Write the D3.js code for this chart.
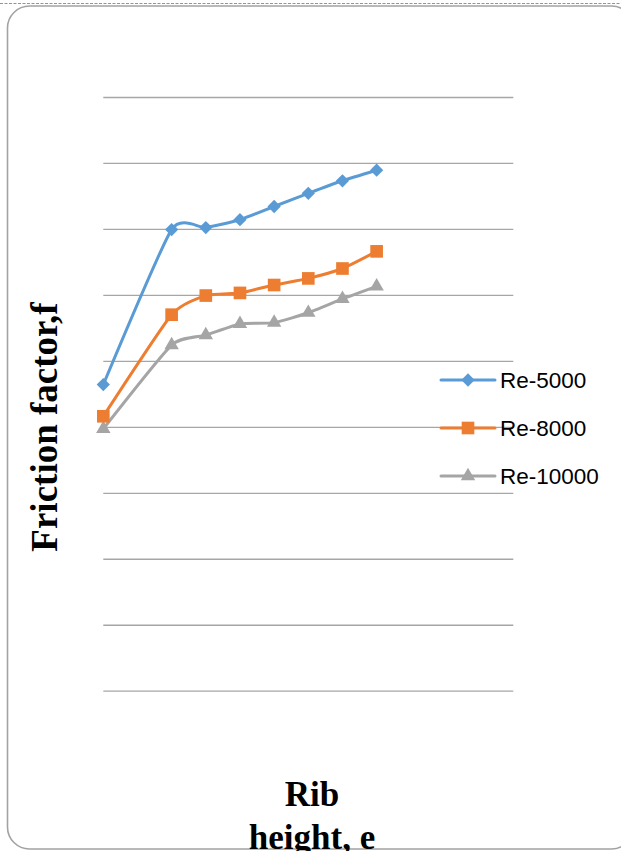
<!DOCTYPE html>
<html>
<head>
<meta charset="utf-8">
<script src="https://cdn.jsdelivr.net/npm/d3@7"></script>
<style>
  html, body { margin: 0; padding: 0; background: #fff; overflow: hidden; }
  svg { display: block; }
</style>
</head>
<body>
<svg id="chart" width="621" height="851"></svg>
<script>
// Rib height (x) and friction factor for each Reynolds number
const ribHeight = [0, 1, 1.5, 2, 2.5, 3, 3.5, 4];
const re5000  = [0.0464, 0.0699, 0.0702, 0.0714, 0.0734, 0.0754, 0.0773, 0.0789];
const re8000  = [0.0416, 0.0570, 0.0599, 0.0603, 0.0615, 0.0625, 0.0640, 0.0666];
const re10000 = [0.0397, 0.0524, 0.0539, 0.0556, 0.0558, 0.0573, 0.0594, 0.0613];
const seriesNames = ["Re-5000", "Re-8000", "Re-10000"];
const yTicks = [0, 0.01, 0.02, 0.03, 0.04, 0.05, 0.06, 0.07, 0.08, 0.09];

const colors = ["#5B9BD5", "#ED7D31", "#A5A5A5"];
const markerShapes = ["diamond", "square", "triangle"];

const svg = d3.select("#chart");

// dashed rule along the top and rounded frame
svg.append("line")
  .attr("x1", 0).attr("x2", 621).attr("y1", 3.5).attr("y2", 3.5)
  .attr("stroke", "#8796ab").attr("stroke-width", 1.2)
  .attr("stroke-dasharray", "3,1.5");
svg.append("rect")
  .attr("x", 7.5).attr("y", 6).attr("width", 626).attr("height", 843)
  .attr("rx", 22).attr("ry", 22)
  .attr("fill", "#fff").attr("stroke", "#a3a3a3").attr("stroke-width", 1.6);

const x = d3.scaleLinear().domain([0, 6]).range([103.3, 513.3]);
const y = d3.scaleLinear().domain([0, 0.09]).range([690.7, 97]);

// horizontal gridlines
const grid = svg.append("g")
  .attr("transform", `translate(${x.range()[0]},0)`)
  .call(d3.axisLeft(y).tickValues(yTicks)
    .tickSize(-(x.range()[1] - x.range()[0])).tickFormat(""));
grid.select(".domain").remove();
grid.selectAll(".tick line").attr("stroke", "#a6a6a6").attr("stroke-width", 1.3);

function symbolPath(shape) {
  if (shape === "diamond") return d3.symbol().type(d3.symbolSquare).size(88)();
  if (shape === "square") return d3.symbol().type(d3.symbolSquare).size(160)();
  return d3.symbol().type(d3.symbolTriangle).size(90)();
}
function symbolTransform(shape, px, py) {
  return shape === "diamond"
    ? `translate(${px},${py}) rotate(45)`
    : `translate(${px},${py})`;
}

const allSeries = [re5000, re8000, re10000].map((vals, i) => ({
  name: seriesNames[i],
  color: colors[i],
  shape: markerShapes[i],
  points: ribHeight.map((h, j) => ({ x: h, y: vals[j] }))
}));

const line = d3.line()
  .x(d => x(d.x)).y(d => y(d.y))
  .curve(d3.curveCardinal.tension(0.45));

// draw series from back to front
allSeries.slice().reverse().forEach(s => {
  const g = svg.append("g");
  g.append("path")
    .attr("d", line(s.points))
    .attr("fill", "none")
    .attr("stroke", s.color)
    .attr("stroke-width", 3)
    .attr("stroke-linejoin", "round")
    .attr("stroke-linecap", "round");
  g.selectAll("path.marker")
    .data(s.points)
    .join("path")
    .attr("class", "marker")
    .attr("d", symbolPath(s.shape))
    .attr("transform", d => symbolTransform(s.shape, x(d.x), y(d.y)))
    .attr("fill", s.color);
});

// legend
const legend = svg.append("g");
allSeries.forEach((s, i) => {
  const cy = 380 + i * 48;
  legend.append("line")
    .attr("x1", 441).attr("x2", 495).attr("y1", cy).attr("y2", cy)
    .attr("stroke", s.color).attr("stroke-width", 3)
    .attr("stroke-linecap", "round");
  legend.append("path")
    .attr("d", symbolPath(s.shape))
    .attr("transform", symbolTransform(s.shape, 468, cy))
    .attr("fill", s.color);
  legend.append("text")
    .attr("x", 500).attr("y", cy + 8)
    .attr("font-family", "'Liberation Sans', Arial, sans-serif")
    .attr("font-size", 22.5)
    .attr("fill", "#000")
    .text(s.name);
});

// axis titles
svg.append("text")
  .attr("transform", "translate(57,427) rotate(-90)")
  .attr("text-anchor", "middle")
  .attr("font-family", "'Liberation Serif', 'Times New Roman', serif")
  .attr("font-weight", "bold")
  .attr("font-size", 37)
  .attr("fill", "#000")
  .text("Friction factor,f");

// the second line of the x title runs past the bottom edge of the frame
const xTitle = svg.append("text")
  .attr("text-anchor", "middle")
  .attr("font-family", "'Liberation Serif', 'Times New Roman', serif")
  .attr("font-weight", "bold")
  .attr("font-size", 35)
  .attr("fill", "#000");
xTitle.append("tspan").attr("x", 312).attr("y", 806).text("Rib");
xTitle.append("tspan").attr("x", 312).attr("y", 849).text("height, e");
</script>
</body>
</html>
